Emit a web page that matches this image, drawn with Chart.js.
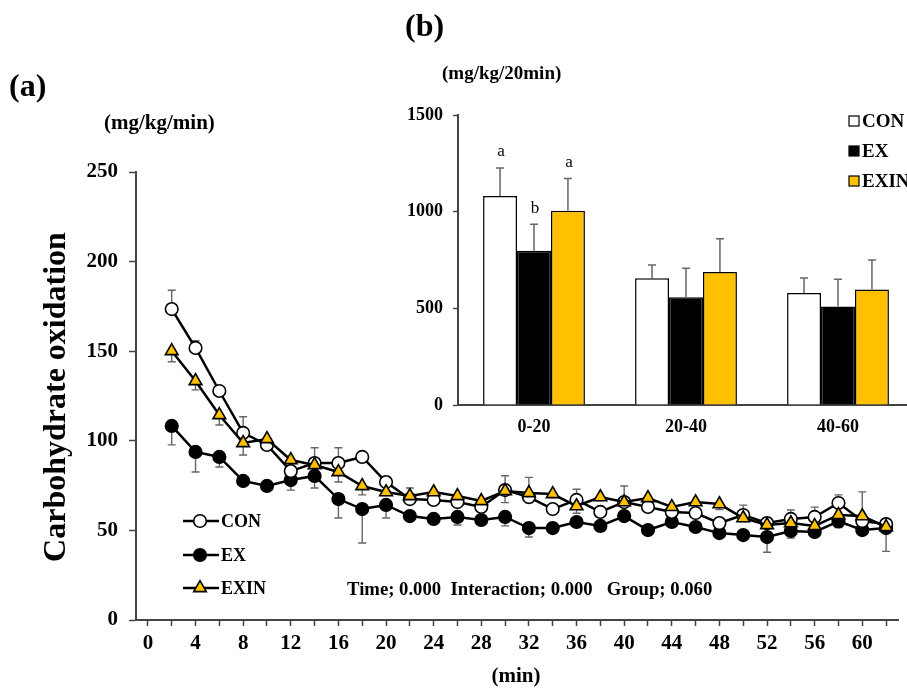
<!DOCTYPE html>
<html>
<head>
<meta charset="utf-8">
<script src="https://cdn.jsdelivr.net/npm/chart.js@4.4.0/dist/chart.umd.min.js"></script>
<style>
  html, body { margin: 0; padding: 0; background: #fff; }
  #wrap { position: relative; width: 907px; height: 688px; overflow: hidden; background: #fff; }
  #main { position: absolute; left: 0; top: 0; }
  #inset { position: absolute; left: 380px; top: 0; }
</style>
</head>
<body>
<div id="wrap">
  <canvas id="main" width="907" height="688"></canvas>
  <canvas id="inset" width="600" height="450"></canvas>
</div>
<script>
// ---- (a) time course, mg/kg/min ----
const minutes = [2, 4, 6, 8, 10, 12, 14, 16, 18, 20, 22, 24, 26, 28, 30, 32,
                 34, 36, 38, 40, 42, 44, 46, 48, 50, 52, 54, 56, 58, 60, 62];
const conValues = [173.5, 151.8, 127.8, 104.4, 97.7, 83.1, 87.6, 87.6, 91.0, 77.0, 67.5, 67.0, 65.8, 63.1, 72.5, 68.6,
                   61.9, 67.0, 60.3, 65.8, 63.1, 60.3, 59.7, 54.1, 58.6, 54.1, 56.4, 57.5, 65.3, 55.2, 53.5];
const conErrors = [10.5, 4, 2, 9, 2, 2, 8.5, 8.5, 2, 3, 2, 2, 2, 2, 8, 11,
                   2, 6, 2, 9, 2, 2, 2, 2, 5.5, 2, 5, 5.5, 4.5, 2, 2];
const exValues = [108.3, 93.8, 91.0, 77.6, 74.8, 78.1, 80.4, 67.5, 61.9, 64.2, 58.0, 56.4, 57.5, 55.8, 57.5, 51.3,
                  51.3, 54.7, 52.5, 58.0, 50.2, 54.7, 51.9, 48.5, 47.4, 46.3, 49.7, 49.1, 55.0, 50.2, 51.3];
const exErrors = [-10.6, -11.2, -5.6, -2, -2, -5.6, -6.7, -10.6, -18.9, -7.3, -2, -2, -4.5, -2, -5, -5,
                  -2, -2, -3, -2, -3, -2, -2, -2, -2, -8.5, -4, -2, -2, -2, -13];
const exinValues = [150.1, 133.4, 114.4, 98.8, 101.0, 89.3, 86.5, 82.6, 74.8, 71.4, 69.2, 71.4, 69.2, 66.4, 72.0, 70.9,
                    70.3, 63.6, 68.6, 65.8, 68.1, 63.1, 65.8, 64.7, 56.9, 53.0, 54.1, 52.5, 58.6, 58.0, 51.9];
const exinErrors = [-6, -5, -5.6, -6.7, -2, -2, -2, -5.6, -5, -2, 4.5, -2, -2, -2, -6.5, -5.5,
                    -2, -4, -2, -2, -2, -2, -2, -3, -2, -2, -2, -2, -7, 13.5, -2];
const xTickValues = [0, 2, 4, 6, 8, 10, 12, 14, 16, 18, 20, 22, 24, 26, 28, 30,
                     32, 34, 36, 38, 40, 42, 44, 46, 48, 50, 52, 54, 56, 58, 60, 62];
const seriesNames = ["CON", "EX", "EXIN"];

// ---- (b) 20-min totals, mg/kg/20min ----
const barCategories = ["0-20", "20-40", "40-60"];
const barCon = [1081, 655, 579];
const barConErr = [145, 69, 78];
const barEx = [798, 557, 509];
const barExErr = [137, 150, 141];
const barExin = [1005, 688, 598];
const barExinErr = [166, 172, 152];
const sigCon = ["a", "", ""];
const sigEx = ["b", "", ""];
const sigExin = ["a", "", ""];

const SERIF = '"Liberation Serif", "Times New Roman", serif';
const YELLOW = "#FFC000";

function pts(values) {
  return minutes.map((t, i) => ({ x: t, y: values[i] }));
}

// error bars behind the lines
const errorBarPlugin = {
  id: "errorBars",
  beforeDatasetsDraw(chart) {
    const ctx = chart.ctx;
    const xs = chart.scales.x, ys = chart.scales.y;
    ctx.save();
    ctx.strokeStyle = "#666";
    ctx.lineWidth = 1.4;
    chart.data.datasets.forEach(ds => {
      if (!ds.errors) return;
      ds.data.forEach((p, i) => {
        const x = xs.getPixelForValue(p.x);
        const y0 = ys.getPixelForValue(p.y);
        const y1 = ys.getPixelForValue(p.y + ds.errors[i]);
        ctx.beginPath();
        ctx.moveTo(x, y0); ctx.lineTo(x, y1);
        ctx.moveTo(x - 4, y1); ctx.lineTo(x + 4, y1);
        ctx.stroke();
      });
    });
    ctx.restore();
  }
};

// legend and labels of panel (a), plus panel (b) headings
const textPlugin = {
  id: "texts",
  afterDraw(chart) {
    const ctx = chart.ctx;
    ctx.save();
    ctx.fillStyle = "#000";
    ctx.textBaseline = "middle";
    ctx.textAlign = "left";

    ctx.font = "bold 32px " + SERIF;
    ctx.fillText("(a)", 9, 88);
    ctx.fillText("(b)", 405, 28);

    ctx.font = "bold 21px " + SERIF;
    ctx.fillText("(mg/kg/min)", 104, 124);
    ctx.font = "bold 19px " + SERIF;
    ctx.fillText("(mg/kg/20min)", 442, 74);

    ctx.font = "bold 18.7px " + SERIF;
    ctx.fillText("Time; 0.000  Interaction; 0.000   Group; 0.060", 347, 590);

    ctx.textAlign = "center";
    ctx.font = "bold 21px " + SERIF;
    ctx.fillText("(min)", 516, 677);

    ctx.save();
    ctx.translate(57, 397);
    ctx.rotate(-Math.PI / 2);
    ctx.font = "bold 32px " + SERIF;
    ctx.fillText("Carbohydrate oxidation", 0, 0);
    ctx.restore();

    // legend
    const rows = [521, 555, 588];
    chart.data.datasets.forEach((ds, i) => {
      const y = rows[i];
      ctx.strokeStyle = "#000";
      ctx.lineWidth = 2.5;
      ctx.beginPath();
      ctx.moveTo(183, y); ctx.lineTo(219, y);
      ctx.stroke();
      ctx.fillStyle = ds.pointBackgroundColor;
      ctx.strokeStyle = "#000";
      ctx.lineWidth = ds.pointBorderWidth;
      Chart.helpers.drawPoint(ctx, { pointStyle: ds.pointStyle, radius: ds.pointRadius, borderWidth: ds.pointBorderWidth, rotation: 0 }, 200, y);
      ctx.fillStyle = "#000";
      ctx.textAlign = "left";
      ctx.font = "bold 18px " + SERIF;
      ctx.fillText(ds.label, 221, y + 1);
    });
    ctx.restore();
  }
};

new Chart(document.getElementById("main"), {
  type: "line",
  data: {
    datasets: [
      {
        label: seriesNames[0], data: pts(conValues), errors: conErrors,
        borderColor: "#000", borderWidth: 2.5,
        pointStyle: "circle", pointRadius: 6.3, pointBorderWidth: 1.6,
        pointBackgroundColor: "#fff", pointBorderColor: "#000", order: 1
      },
      {
        label: seriesNames[1], data: pts(exValues), errors: exErrors,
        borderColor: "#000", borderWidth: 2.5,
        pointStyle: "circle", pointRadius: 6.3, pointBorderWidth: 1.6,
        pointBackgroundColor: "#000", pointBorderColor: "#000", order: 2
      },
      {
        label: seriesNames[2], data: pts(exinValues), errors: exinErrors,
        borderColor: "#000", borderWidth: 2.5,
        pointStyle: "triangle", pointRadius: 7.3, pointBorderWidth: 1.6,
        pointBackgroundColor: YELLOW, pointBorderColor: "#000", order: 0
      }
    ]
  },
  options: {
    responsive: false,
    animation: false,
    layout: { padding: { top: 172, right: 9, left: 0, bottom: 0 } },
    plugins: { legend: { display: false }, tooltip: { enabled: false } },
    elements: { line: { tension: 0 } },
    scales: {
      x: {
        type: "linear", min: -1, max: 63,
        afterBuildTicks: axis => { axis.ticks = xTickValues.map(v => ({ value: v })); },
        afterFit: axis => { axis.height = 68; },
        ticks: {
          autoSkip: false, maxRotation: 0, padding: 5, color: "#000",
          font: { family: SERIF, size: 21, weight: "bold" },
          callback: v => (v % 4 === 0 ? String(v) : "")
        },
        grid: { drawOnChartArea: false, tickLength: 6, tickColor: "#444", tickWidth: 1.5 },
        border: { color: "#444", width: 2 }
      },
      y: {
        min: 0, max: 250,
        afterFit: axis => { axis.width = 136; },
        ticks: {
          stepSize: 50, padding: 11, color: "#000",
          font: { family: SERIF, size: 21, weight: "bold" }
        },
        grid: { drawOnChartArea: false, tickLength: 7, tickColor: "#444", tickWidth: 1.5 },
        border: { color: "#444", width: 2 }
      }
    }
  },
  plugins: [errorBarPlugin, textPlugin]
});

// ---- inset (b) ----
const barExtrasPlugin = {
  id: "barExtras",
  afterDatasetsDraw(chart) {
    const ctx = chart.ctx;
    const ys = chart.scales.y;
    ctx.save();
    chart.data.datasets.forEach((ds, di) => {
      const meta = chart.getDatasetMeta(di);
      meta.data.forEach((bar, i) => {
        const top = ys.getPixelForValue(ds.data[i] + ds.errors[i]);
        ctx.strokeStyle = "#666";
        ctx.lineWidth = 1.5;
        ctx.beginPath();
        ctx.moveTo(bar.x, bar.y); ctx.lineTo(bar.x, top);
        ctx.moveTo(bar.x - 4, top); ctx.lineTo(bar.x + 4, top);
        ctx.stroke();
        if (ds.letters[i]) {
          ctx.fillStyle = "#000";
          ctx.font = "17px " + SERIF;
          ctx.textAlign = "center";
          ctx.textBaseline = "middle";
          ctx.fillText(ds.letters[i], bar.x + 1, top - 16);
        }
      });
    });
    // legend, top right
    const rows = [121, 151, 181];
    chart.data.datasets.forEach((ds, di) => {
      const y = rows[di];
      ctx.fillStyle = ds.backgroundColor;
      ctx.strokeStyle = "#000";
      ctx.lineWidth = 1.2;
      ctx.fillRect(469, y - 5, 10, 10);
      ctx.strokeRect(469, y - 5, 10, 10);
      ctx.fillStyle = "#000";
      ctx.font = "bold 19px " + SERIF;
      ctx.textAlign = "left";
      ctx.textBaseline = "middle";
      ctx.fillText(ds.label, 482, y + 1);
    });
    ctx.restore();
  }
};

new Chart(document.getElementById("inset"), {
  type: "bar",
  data: {
    labels: barCategories,
    datasets: [
      { label: seriesNames[0], data: barCon, errors: barConErr, letters: sigCon, backgroundColor: "#fff" },
      { label: seriesNames[1], data: barEx, errors: barExErr, letters: sigEx, backgroundColor: "#000" },
      { label: seriesNames[2], data: barExin, errors: barExinErr, letters: sigExin, backgroundColor: YELLOW }
    ]
  },
  options: {
    responsive: false,
    animation: false,
    layout: { padding: { top: 115, right: 66, left: 0, bottom: 0 } },
    plugins: { legend: { display: false }, tooltip: { enabled: false } },
    datasets: { bar: { borderColor: "#000", borderWidth: 1.5, categoryPercentage: 0.67, barPercentage: 1 } },
    scales: {
      x: {
        afterFit: axis => { axis.height = 45; },
        ticks: { padding: 12, color: "#000", font: { family: SERIF, size: 18, weight: "bold" } },
        grid: { drawOnChartArea: false, drawTicks: false },
        border: { color: "#444", width: 2 }
      },
      y: {
        min: 0, max: 1500,
        afterFit: axis => { axis.width = 78; },
        ticks: {
          stepSize: 500, padding: 10, color: "#000",
          font: { family: SERIF, size: 18, weight: "bold" },
          callback: v => String(v)
        },
        grid: { drawOnChartArea: false, tickLength: 5, tickColor: "#444", tickWidth: 1.5 },
        border: { color: "#444", width: 2 }
      }
    }
  },
  plugins: [barExtrasPlugin]
});
</script>
</body>
</html>
